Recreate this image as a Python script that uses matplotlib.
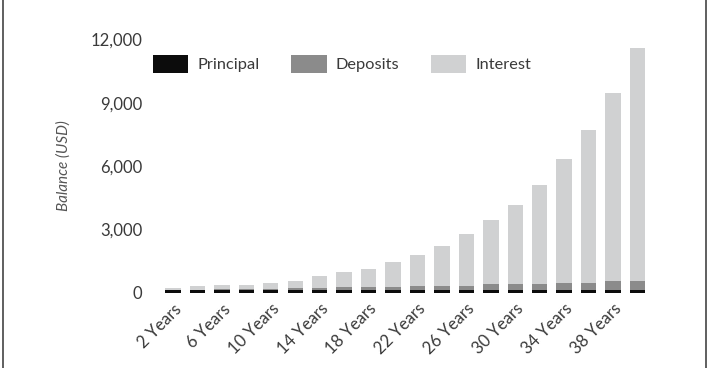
import matplotlib.pyplot as plt
from matplotlib.ticker import FuncFormatter
from matplotlib.lines import Line2D

years = list(range(2, 41, 2))
labels = [f"{y} Years" if (y - 2) % 4 == 0 else "" for y in years]

principal = [100] * 20
deposits = [20, 40, 50, 60, 80, 100, 120, 140, 160, 180,
             200, 210, 220, 280, 290, 300, 350, 360, 430, 440]
totals = [237, 313, 379, 379, 427, 569, 773, 962, 1137, 1450,
          1800, 2227, 2765, 3427, 4171, 5085, 6318, 7725, 9479, 11611]
interest = [t - p - d for t, p, d in zip(totals, principal, deposits)]

c_prin = '#0c0c0c'
c_dep = '#8b8b8b'
c_int = '#d0d1d2'
txt = '#3a3a3a'

plt.rcParams['font.family'] = ['Lato', 'DejaVu Sans']

fig = plt.figure(figsize=(7.09, 3.68), dpi=100)
ax = fig.add_axes([153.4 / 709, (368 - 292.5) / 368, (657.1 - 153.4) / 709, 253 / 368])

x = list(range(len(years)))
w = 0.63
ax.bar(x, principal, w, color=c_prin, label='Principal')
ax.bar(x, deposits, w, bottom=principal, color=c_dep, label='Deposits')
bottoms = [p + d for p, d in zip(principal, deposits)]
ax.bar(x, interest, w, bottom=bottoms, color=c_int, label='Interest')

ax.set_xlim(-0.8, 19.8)
ax.set_ylim(0, 12000)
ax.set_yticks([0, 3000, 6000, 9000, 12000])
ax.yaxis.set_major_formatter(FuncFormatter(lambda v, p: f"{int(v):,}"))
ax.set_xticks(x)
ax.set_xticklabels(labels, rotation=45, ha='right', rotation_mode='anchor')
ax.tick_params(axis='both', length=0, labelsize=12, labelcolor=txt)
ax.tick_params(axis='y', pad=8)
ax.tick_params(axis='x', pad=6)
for s in ax.spines.values():
    s.set_visible(False)

ax.set_ylabel('Balance (USD)', style='italic', fontsize=11, color='#555555', labelpad=14)

ax.legend(loc='upper left', bbox_to_anchor=(-0.014, 0.965), ncol=3, frameon=False,
          fontsize=11.8, handlelength=2.15, handleheight=1.3, handletextpad=0.55,
          columnspacing=1.95, labelcolor=txt, borderaxespad=0)

# frame lines at image edges
fig.add_artist(Line2D([3 / 709, 3 / 709], [0, 1], color='#444444', lw=1.2))
fig.add_artist(Line2D([706 / 709, 706 / 709], [0, 1], color='#444444', lw=1.2))

fig.savefig('out.png', dpi=100)
